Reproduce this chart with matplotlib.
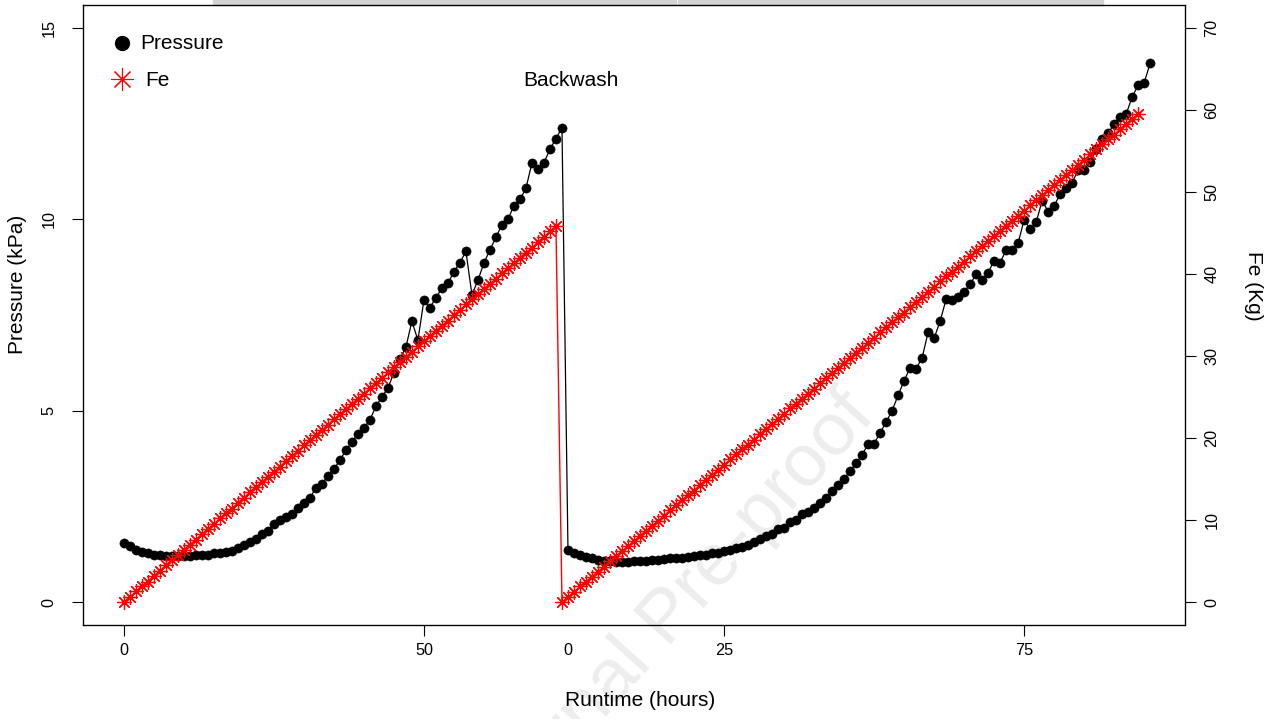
import numpy as np
import matplotlib.pyplot as plt
from matplotlib.patches import Rectangle

plt.rcParams['font.family'] = ['Liberation Sans', 'DejaVu Sans']

# =================================================================
# data (runtime in hours, both filter runs on one continuous axis)
# =================================================================
pressure_run1_hours = np.arange(0, 74)
pressure_run1 = [
    1.53, 1.47, 1.36, 1.31, 1.27, 1.24, 1.22, 1.21, 1.21, 1.20,
    1.20, 1.21, 1.22, 1.23, 1.24, 1.27, 1.29, 1.30, 1.34, 1.40,
    1.49, 1.57, 1.66, 1.77, 1.86, 2.05, 2.14, 2.23, 2.29, 2.47,
    2.60, 2.72, 2.98, 3.08, 3.30, 3.48, 3.70, 3.97, 4.18, 4.40,
    4.55, 4.76, 5.11, 5.36, 5.59, 5.99, 6.35, 6.66, 7.34, 6.84,
    7.89, 7.69, 7.95, 8.20, 8.33, 8.63, 8.87, 9.16, 8.03, 8.41,
    8.86, 9.20, 9.53, 9.86, 10.00, 10.36, 10.52, 10.81, 11.48, 11.32,
    11.48, 11.83, 12.11, 12.39,
]
pressure_run2_hours = np.arange(74, 172)
pressure_run2 = [
    1.36, 1.27, 1.22, 1.18, 1.14, 1.11, 1.08, 1.07, 1.05, 1.05,
    1.05, 1.07, 1.08, 1.08, 1.09, 1.09, 1.12, 1.14, 1.14, 1.16,
    1.18, 1.20, 1.22, 1.24, 1.27, 1.29, 1.33, 1.36, 1.40, 1.44,
    1.50, 1.56, 1.66, 1.72, 1.77, 1.90, 1.94, 2.08, 2.14, 2.30,
    2.34, 2.47, 2.60, 2.72, 2.90, 3.05, 3.22, 3.42, 3.62, 3.85,
    4.12, 4.14, 4.42, 4.70, 5.00, 5.40, 5.78, 6.12, 6.10, 6.38,
    7.05, 6.89, 7.34, 7.91, 7.89, 7.97, 8.11, 8.30, 8.57, 8.42,
    8.61, 8.92, 8.87, 9.20, 9.20, 9.38, 9.99, 9.75, 9.92, 10.49,
    10.20, 10.36, 10.65, 10.81, 10.95, 11.30, 11.30, 11.51, 11.83, 12.09,
    12.26, 12.48, 12.68, 12.75, 13.20, 13.51, 13.57, 14.08,
]

fe_run1_hours = np.arange(0, 73)
fe_run1 = [
    0.0, 0.6, 1.3, 1.9, 2.5, 3.2, 3.8, 4.5, 5.1, 5.7,
    6.4, 7.0, 7.6, 8.3, 8.9, 9.5, 10.2, 10.8, 11.4, 12.1,
    12.7, 13.4, 14.0, 14.6, 15.3, 15.9, 16.5, 17.2, 17.8, 18.4,
    19.1, 19.7, 20.4, 21.0, 21.6, 22.3, 22.9, 23.5, 24.2, 24.8,
    25.4, 26.1, 26.7, 27.3, 28.0, 28.6, 29.3, 29.9, 30.5, 31.2,
    31.8, 32.4, 33.1, 33.7, 34.3, 35.0, 35.6, 36.3, 36.9, 37.5,
    38.2, 38.8, 39.4, 40.1, 40.7, 41.3, 42.0, 42.6, 43.2, 43.9,
    44.5, 45.2, 45.8,
]
fe_run2_hours = np.arange(73, 170)
fe_run2 = [
    0.0, 0.6, 1.2, 1.9, 2.5, 3.1, 3.7, 4.3, 5.0, 5.6,
    6.2, 6.8, 7.4, 8.1, 8.7, 9.3, 9.9, 10.5, 11.2, 11.8,
    12.4, 13.0, 13.6, 14.3, 14.9, 15.5, 16.1, 16.7, 17.4, 18.0,
    18.6, 19.2, 19.8, 20.5, 21.1, 21.7, 22.3, 22.9, 23.6, 24.2,
    24.8, 25.4, 26.0, 26.7, 27.3, 27.9, 28.5, 29.1, 29.8, 30.4,
    31.0, 31.6, 32.2, 32.9, 33.5, 34.1, 34.7, 35.3, 36.0, 36.6,
    37.2, 37.8, 38.4, 39.1, 39.7, 40.3, 40.9, 41.5, 42.2, 42.8,
    43.4, 44.0, 44.6, 45.3, 45.9, 46.5, 47.1, 47.7, 48.4, 49.0,
    49.6, 50.2, 50.8, 51.5, 52.1, 52.7, 53.3, 53.9, 54.6, 55.2,
    55.8, 56.4, 57.0, 57.7, 58.3, 58.9, 59.5,
]

# x ticks: hours of run 1, then hours of run 2 (restarted after backwash)
xtick_pos = [0, 50, 100, 150]
xtick_labels = ["0", "50", "25", "75"]
run2_start = 74
pressure_ticks = [0, 5, 10, 15]
fe_ticks = [0, 10, 20, 30, 40, 50, 60, 70]

hours_p = np.concatenate([pressure_run1_hours, pressure_run2_hours])
pressure = np.concatenate([pressure_run1, pressure_run2])
hours_fe = np.concatenate([fe_run1_hours, fe_run2_hours])
fe = np.concatenate([fe_run1, fe_run2])

# =================================================================
# figure
# =================================================================
W, H = 1280, 719
fig = plt.figure(figsize=(W / 100, H / 100), dpi=100)

# watermark + grey strip from the source page
fig.text(0.522, 0.140, "Journal Pre-proof", rotation=48, fontsize=54,
         color="#ededed", ha="center", va="center", zorder=-1)
fig.patches.append(Rectangle((213 / W, 1 - 5 / H), 463 / W, 5 / H,
                             transform=fig.transFigure, color="#d3d3d3", zorder=-1))
fig.patches.append(Rectangle((678 / W, 1 - 5 / H), 425 / W, 5 / H,
                             transform=fig.transFigure, color="#d3d3d3", zorder=-1))

ax = fig.add_axes([83 / W, 1 - 625 / H, 1102 / W, 620 / H])
ax.patch.set_visible(False)

ax.plot(hours_p, pressure, color="black", lw=0.9, marker="o", ms=6.6, mew=0.4)
ax.set_xlim(-6.8, 176.8)
ax.set_ylim(-0.6, 15.6)
ax.set_yticks(pressure_ticks)
ax.set_xticks(xtick_pos, xtick_labels)
ax.set_xticks([run2_start], ["0"], minor=True)
ax.tick_params(axis="both", which="major", length=8, width=0.8, labelsize=11.7)
ax.tick_params(axis="x", which="major", pad=5)
ax.tick_params(axis="x", which="minor", length=0, pad=13, labelsize=11.7)
ax.tick_params(axis="y", pad=11)
for lab in ax.get_yticklabels():
    lab.set_rotation(90)
    lab.set_va("center")
for sp in ax.spines.values():
    sp.set_linewidth(0.9)

ax.text(74.5, 13.64, "Backwash", ha="center", va="center", fontsize=15)

# legend (drawn by hand, R style)
ax.plot([0.0354], [0.938], transform=ax.transAxes, marker="o", color="black",
        ms=10, ls="none")
ax.text(0.0517, 0.938, "Pressure", transform=ax.transAxes, va="center", fontsize=15)
ax.plot([0.0354], [0.880], transform=ax.transAxes, marker=(8, 2, 0), color="red",
        ms=16, mew=0.8, ls="none")
ax.text(0.0563, 0.878, "Fe", transform=ax.transAxes, va="center", fontsize=15)

# second axis: Fe
ax2 = ax.twinx()
ax2.plot(hours_fe, fe, color="red", lw=1.0, marker=(8, 2, 0), ms=10.5, mew=0.9)
ax2.set_ylim(-2.8, 72.8)
ax2.set_yticks(fe_ticks)
ax2.tick_params(axis="y", length=8, width=0.8, labelsize=11.7, pad=6)
for lab in ax2.get_yticklabels():
    lab.set_rotation(90)
    lab.set_va("center")

fig.text(640 / W, 1 - 700 / H, "Runtime (hours)", ha="center", va="center", fontsize=15)
fig.text(18 / W, 1 - 284 / H, "Pressure (kPa)", rotation=90, ha="center", va="center",
         fontsize=15)
fig.text(1253 / W, 1 - 286 / H, "Fe (Kg)", rotation=270, ha="center", va="center",
         fontsize=15)

fig.savefig("out.png", dpi=100)
